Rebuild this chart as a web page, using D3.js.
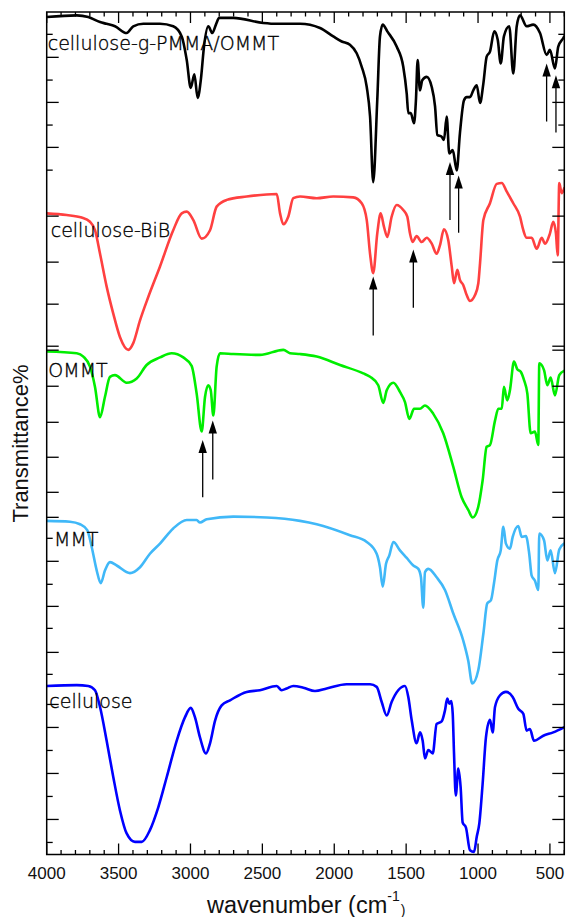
<!DOCTYPE html>
<html>
<head>
<meta charset="utf-8">
<script src="https://cdn.jsdelivr.net/npm/d3@7"></script>
<style>
  html, body { margin: 0; padding: 0; background: #fff; }
  svg { display: block; }
  text { font-family: "Liberation Sans", Arial, Helvetica, sans-serif; }
  text.slabel { font-family: "DejaVu Sans", "Liberation Sans", sans-serif; font-weight: 200; }
</style>
</head>
<body>
<svg id="chart" width="567" height="917"></svg>
<script>
// ---------- data (wavenumber cm-1, offset transmittance units) ----------
const seriesNames = ["cellulose-g-PMMA/OMMT", "cellulose-BiB", "OMMT", "MMT", "cellulose"];
const seriesColors = ["#000000", "#ff4040", "#00ee00", "#40b8f8", "#0000ff"];

const pmmaOmmt = [[4000,99.4],[3791,99.6],[3711,99.4],[3629,98.8],[3583,98.6],[3525,98.3],[3444,97.5],[3398,98.3],[3328,98.6],[3212,98.6],[3120,98.3],[3061,97.1],[3026,94.3],[2998,91.0],[2973,92.6],[2950,89.8],[2927,92.1],[2906,95.9],[2876,98.3],[2848,97.5],[2823,98.5],[2800,99.3],[2702,99.3],[2494,98.7],[2400,98.6],[2238,98.6],[2099,98.1],[2007,97.1],[1948,96.5],[1891,96.1],[1844,95.1],[1809,93.5],[1774,91.1],[1751,87.6],[1729,79.8],[1701,89.5],[1682,97.1],[1663,98.5],[1631,97.7],[1566,95.9],[1520,93.5],[1496,90.3],[1485,88.0],[1468,88.0],[1445,86.8],[1432,89.5],[1420,94.3],[1404,90.7],[1388,91.9],[1357,92.3],[1322,91.1],[1299,88.8],[1283,85.4],[1253,85.2],[1237,84.8],[1218,87.6],[1200,83.2],[1176,83.6],[1148,81.2],[1126,85.6],[1098,89.5],[1079,89.9],[1056,89.9],[1033,90.7],[1009,91.3],[986,89.2],[963,91.5],[940,94.7],[917,95.3],[887,97.7],[863,96.7],[842,93.9],[820,97.1],[783,98.3],[755,92.7],[731,98.3],[708,99.6],[662,98.3],[616,98.5],[569,97.5],[523,94.9],[500,95.5],[465,93.3],[442,95.9],[407,96.9],[400,97.1]];

const celluloseBiB = [[4000,76.1],[3861,75.9],[3757,75.6],[3699,75.1],[3664,74.1],[3629,71.3],[3583,67.4],[3537,64.2],[3490,61.4],[3432,59.9],[3398,60.7],[3351,63.4],[3293,66.2],[3212,69.8],[3120,74.1],[3061,76.1],[3026,76.3],[2980,75.3],[2922,73.1],[2864,74.1],[2818,76.9],[2748,77.7],[2609,78.1],[2400,78.4],[2377,76.1],[2354,74.8],[2320,75.7],[2285,77.9],[2238,78.1],[2122,77.9],[2007,78.1],[1868,78.0],[1809,77.3],[1774,75.3],[1751,71.3],[1729,69.0],[1701,73.7],[1677,76.1],[1654,74.5],[1631,73.3],[1601,75.7],[1566,77.1],[1520,76.5],[1492,75.7],[1473,73.7],[1455,72.7],[1427,73.4],[1392,72.7],[1357,73.2],[1322,72.5],[1288,71.3],[1265,72.3],[1237,74.2],[1207,72.9],[1183,69.8],[1167,67.8],[1144,69.4],[1126,68.2],[1103,67.6],[1079,66.4],[1056,65.7],[1021,66.4],[998,67.8],[986,70.2],[963,75.3],[917,77.3],[870,79.6],[835,79.7],[801,78.7],[755,77.3],[708,75.7],[685,74.1],[662,73.2],[627,73.2],[592,71.9],[557,73.2],[534,72.5],[500,73.7],[477,75.1],[458,73.7],[446,71.1],[435,79.7],[418,78.5],[400,79.1]];

const ommt = [[4000,59.7],[3791,59.5],[3745,59.1],[3699,57.9],[3664,55.5],[3629,51.9],[3595,54.3],[3560,56.7],[3525,56.9],[3444,56.0],[3374,56.5],[3305,58.1],[3212,59.0],[3131,59.5],[3050,59.0],[2992,58.0],[2957,54.7],[2922,50.2],[2899,54.3],[2876,55.7],[2859,55.1],[2841,52.1],[2818,57.9],[2795,59.5],[2702,59.4],[2517,59.3],[2354,59.9],[2308,59.5],[2238,59.4],[2122,59.1],[1960,58.1],[1798,57.1],[1751,56.7],[1694,55.7],[1659,53.6],[1635,55.1],[1589,56.0],[1543,54.9],[1508,53.7],[1478,51.7],[1445,52.9],[1404,52.9],[1369,53.3],[1311,52.3],[1242,50.0],[1172,46.0],[1114,42.4],[1068,40.9],[1037,40.0],[998,41.3],[968,44.4],[940,48.4],[917,48.6],[882,51.5],[859,52.9],[835,52.9],[820,55.5],[797,53.9],[778,55.1],[750,58.5],[727,57.6],[703,57.3],[680,56.3],[657,54.7],[634,50.0],[604,50.2],[581,48.6],[574,58.3],[541,57.5],[518,55.7],[495,56.6],[465,54.5],[435,56.9],[402,57.4]];

const mmt = [[4000,39.6],[3838,39.5],[3768,39.2],[3718,38.5],[3687,36.5],[3652,33.7],[3624,32.2],[3595,33.7],[3560,34.7],[3513,34.3],[3421,33.4],[3351,34.1],[3282,35.7],[3212,36.9],[3120,38.7],[3026,39.7],[2957,39.7],[2934,39.4],[2887,39.8],[2702,40.1],[2470,40.0],[2238,39.6],[2122,39.2],[1891,37.9],[1774,37.1],[1705,35.7],[1682,34.1],[1663,31.8],[1640,34.5],[1617,35.5],[1589,37.1],[1543,36.1],[1496,35.2],[1450,34.3],[1415,33.9],[1397,32.9],[1381,29.3],[1369,33.5],[1346,33.9],[1288,32.9],[1230,31.4],[1172,28.6],[1103,25.4],[1068,23.0],[1040,20.3],[998,21.9],[963,26.2],[936,29.8],[910,30.2],[889,32.2],[866,34.9],[842,36.1],[824,38.9],[806,36.9],[778,36.3],[759,37.7],[720,39.0],[696,37.7],[667,37.8],[644,35.7],[627,33.1],[604,32.5],[581,31.4],[574,38.1],[541,37.3],[518,34.9],[495,36.1],[465,33.4],[435,36.2],[402,36.9]];

const cellulose = [[4000,20.0],[3791,20.1],[3711,20.0],[3664,19.5],[3629,17.5],[3583,13.5],[3537,9.2],[3490,5.2],[3444,2.5],[3386,1.5],[3339,1.5],[3282,2.9],[3224,5.6],[3165,9.2],[3096,13.5],[3038,16.3],[2998,17.4],[2969,16.3],[2934,13.9],[2892,12.0],[2864,13.2],[2829,15.9],[2783,17.7],[2725,18.3],[2609,19.3],[2517,19.5],[2400,20.0],[2366,19.5],[2331,19.7],[2285,20.0],[2215,19.8],[2134,19.4],[2053,19.7],[1914,20.2],[1751,20.2],[1705,19.9],[1670,18.1],[1635,16.5],[1601,18.1],[1555,19.5],[1508,20.0],[1485,18.7],[1461,15.9],[1427,13.2],[1404,14.5],[1385,13.5],[1369,11.4],[1346,12.4],[1315,12.0],[1288,15.5],[1253,15.8],[1230,17.1],[1214,18.5],[1200,17.9],[1186,18.2],[1176,16.7],[1167,12.0],[1155,7.0],[1137,10.2],[1121,8.0],[1107,3.8],[1084,3.2],[1056,0.5],[1028,0.3],[1009,2.1],[991,3.7],[968,8.4],[945,13.9],[917,16.0],[898,14.5],[882,17.5],[847,18.9],[806,19.3],[759,18.7],[720,17.3],[685,16.7],[662,14.7],[639,14.9],[611,13.5],[546,14.1],[477,14.5],[402,15.1]];

// arrows: [wavenumber, tail value, tip value]
const arrows = [[523,87.0,93.9],[458,85.7,92.5],[1195,75.3,82.2],[1135,73.8,80.6],[1729,61.6,68.6],[1450,64.9,71.8],[2915,42.4,49.2],[2845,44.5,51.5]];

const xTickValues = [4000, 3500, 3000, 2500, 2000, 1500, 1000, 500];
const xMinorValues = d3.range(4000, 399, -100);
const yTickValues = [97.35,94.62,91.92,89.27,86.58,83.93,81.23,75.77,70.31,65.32,60.33,59.86,55.58,51.30,47.15,42.99,40.02,37.53,34.80,32.07,29.45,26.84,23.99,21.38,17.81,15.08,12.35,9.62,6.89,4.16,1.43];
const yTickMajor = [0,1,0,1,0,1,0,1,1,1,1,1,1,1,1,1,1,0,1,0,1,0,1,0,1,1,0,1,0,1,0];

// ---------- layout ----------
const svg = d3.select("#chart");
const pL = 46.7, pR = 564.3, pT = 12, pB = 854.5;
const x = d3.scaleLinear().domain([4000, 400]).range([pL, pR]);
const y = d3.scaleLinear().domain([0, 100]).range([pB, pT]);

const allSeries = [pmmaOmmt, celluloseBiB, ommt, mmt, cellulose];

const line = d3.line()
  .x(d => x(d[0]))
  .y(d => y(d[1]))
  .curve(d3.curveMonotoneX);

svg.append("clipPath").attr("id", "plotclip")
  .append("rect").attr("x", pL).attr("y", pT).attr("width", pR - pL).attr("height", pB - pT);

const plot = svg.append("g").attr("clip-path", "url(#plotclip)");
allSeries.forEach((s, i) => {
  plot.append("path")
    .datum(s)
    .attr("d", line)
    .attr("fill", "none")
    .attr("stroke", seriesColors[i])
    .attr("stroke-width", 2.6)
    .attr("stroke-linejoin", "round")
    .attr("stroke-linecap", "round");
});

// arrows
const ag = svg.append("g");
arrows.forEach(a => {
  const ax = x(a[0]), yt = y(a[1]), yp = y(a[2]);
  ag.append("line").attr("x1", ax).attr("x2", ax).attr("y1", yt).attr("y2", yp + 10)
    .attr("stroke", "#000").attr("stroke-width", 1.3);
  ag.append("path")
    .attr("d", `M${ax},${yp} L${ax - 4.2},${yp + 13} L${ax + 4.2},${yp + 13} Z`)
    .attr("fill", "#000");
});

// axes (ticks inward)
const axG = svg.append("g").attr("stroke", "#000").attr("stroke-width", 1.3);
xMinorValues.forEach(v => {
  const major = v % 500 === 0;
  const len = major ? 11 : 4.5;
  axG.append("line").attr("x1", x(v)).attr("x2", x(v)).attr("y1", pB).attr("y2", pB - len);
  axG.append("line").attr("x1", x(v)).attr("x2", x(v)).attr("y1", pT).attr("y2", pT + len);
});
yTickValues.forEach((v, i) => {
  const len = yTickMajor[i] ? 12 : 6;
  axG.append("line").attr("x1", pL).attr("x2", pL + len).attr("y1", y(v)).attr("y2", y(v));
  axG.append("line").attr("x1", pR).attr("x2", pR - len).attr("y1", y(v)).attr("y2", y(v));
});
svg.append("rect").attr("x", pL).attr("y", pT).attr("width", pR - pL).attr("height", pB - pT)
  .attr("fill", "none").attr("stroke", "#000").attr("stroke-width", 1.5);

// tick labels
svg.append("g").selectAll("text").data(xTickValues).join("text")
  .attr("x", d => x(d)).attr("y", 878.5)
  .attr("text-anchor", "middle")
  .attr("font-size", 17)
  .attr("fill", "#111")
  .text(d => d);

// axis titles
const xt = svg.append("text").attr("x", 207).attr("y", 913).attr("font-size", 23.5).attr("fill", "#111");
xt.append("tspan").text("wavenumber (cm");
xt.append("tspan").attr("font-size", 14).attr("dy", -12).text("-1");
xt.append("tspan").attr("font-size", 14).attr("dy", 14).attr("dx", 1).text(")");

svg.append("text")
  .attr("transform", "translate(28,443.5) rotate(-90)")
  .attr("text-anchor", "middle")
  .attr("font-size", 22)
  .attr("fill", "#111")
  .text("Transmittance%");

// series labels
const labelPos = [[4000, 95.5, 1], [4000, 73.3, 4], [4000, 56.7, 1.6], [4000, 36.6, 7.3], [4000, 17.4, 2.6]];
seriesNames.forEach((n, i) => {
  svg.append("text")
    .attr("class", "slabel")
    .attr("x", x(labelPos[i][0]) + labelPos[i][2])
    .attr("y", y(labelPos[i][1]))
    .attr("font-size", 19)
    .attr("fill", "#000")
    .attr("stroke", "#000")
    .attr("stroke-width", 0.35)
    .text(n);
});
</script>
</body>
</html>
